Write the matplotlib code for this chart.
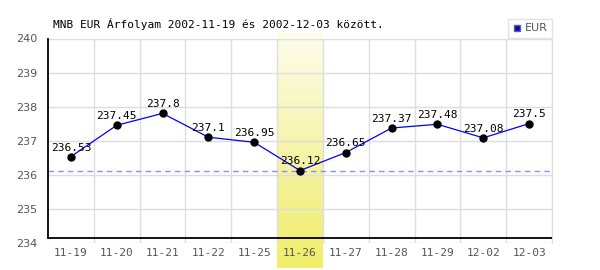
import numpy as np
import matplotlib
matplotlib.use('Agg')
import matplotlib.pyplot as plt
from matplotlib.transforms import blended_transform_factory
from matplotlib.colors import LinearSegmentedColormap

# MNB EUR exchange rate data
dates = ['11-19', '11-20', '11-21', '11-22', '11-25', '11-26',
         '11-27', '11-28', '11-29', '12-02', '12-03']
rates = [236.53, 237.45, 237.8, 237.1, 236.95, 236.12,
         236.65, 237.37, 237.48, 237.08, 237.5]
labels = ['236.53', '237.45', '237.8', '237.1', '236.95', '236.12',
          '236.65', '237.37', '237.48', '237.08', '237.5']
yticks = [234, 235, 236, 237, 238, 239, 240]

mono = 'DejaVu Sans Mono'

fig = plt.figure(figsize=(6, 2.7), dpi=100)
ax = fig.add_axes([48/600, 1 - 242.7/270, 504/600, 204.2/270])

x = np.arange(len(dates))
ax.set_xlim(-0.5, len(dates) - 0.5)
ax.set_ylim(234, 240)

# highlighted (minimum) day band with gradient
imin = int(np.argmin(rates))
cmap = LinearSegmentedColormap.from_list('yel', ['#fdfdec', '#f6f4a8', '#f0ee6a'])
grad = np.linspace(0, 1, 100).reshape(-1, 1)
tr = blended_transform_factory(ax.transData, fig.transFigure)
ax.imshow(grad, cmap=cmap, aspect='auto', transform=tr,
          extent=(imin - 0.5, imin + 0.5, 2/270, 1 - 33/270),
          origin='upper', clip_on=False, zorder=0)

# grid
for yv in yticks:
    ax.axhline(yv, color='#dddddd', lw=1, zorder=1)
for xb in np.arange(0.5, len(dates), 1.0):
    ax.axvline(xb, color='#dddddd', lw=1, zorder=1)

# min dashed line
ax.axhline(min(rates), color='#8c8cff', lw=1, ls=(0, (4, 3)), zorder=2)

ax.plot(x, rates, color='#0000ff', lw=0.9, zorder=3)
ax.plot(x, rates, 'o', color='black', ms=5, zorder=4)
for xi, yi, lab in zip(x, rates, labels):
    ax.text(xi, yi + 0.12, lab, ha='center', va='bottom', fontsize=8,
            family=mono, color='black', zorder=5)

# black x axis line slightly above the 234 grid line
ax.axhline(234.13, color='black', lw=1.3, zorder=6)

for s in ['top', 'bottom']:
    ax.spines[s].set_visible(False)
ax.spines['left'].set_color('black')
ax.spines['left'].set_linewidth(1.3)
ax.spines['left'].set_bounds(234.13, 240)
ax.spines['right'].set_color('#dddddd')

ax.set_xticks(x)
ax.set_xticklabels(dates, family=mono, fontsize=8, color='#555555')
ax.set_yticks(yticks)
ax.set_yticklabels([str(v) for v in yticks], family='DejaVu Sans', fontsize=8, color='#555555')
ax.tick_params(length=0, pad=4)
ax.tick_params(axis='y', pad=8)
ax.set_facecolor('none')

fig.text(53/600, 1 - 24/270, 'MNB EUR Árfolyam 2002-11-19 és 2002-12-03 között.',
         family=mono, fontsize=8, va='center', ha='left')

# legend box
leg = ax.legend([plt.Line2D([], [], marker='s', ls='', markerfacecolor='#0000ff',
                            markeredgecolor='#666666', ms=5)], ['EUR'],
                loc='upper right', frameon=True, fancybox=False, handlelength=0.8,
                handletextpad=0.3, borderpad=0.4, fontsize=8, borderaxespad=0)
leg.get_frame().set_edgecolor('#dddddd')
leg.get_frame().set_linewidth(1)
for t in leg.get_texts():
    t.set_color('#555555')
leg.set_bbox_to_anchor((552/600, 1 - 19/270), transform=fig.transFigure)

fig.savefig('out.png', dpi=100)
